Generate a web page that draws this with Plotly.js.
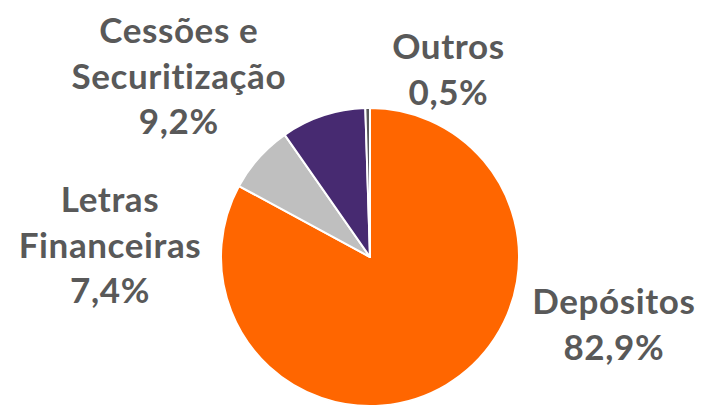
<!DOCTYPE html>
<html>
<head>
<meta charset="utf-8">
<script src="https://cdn.plot.ly/plotly-3.0.1.min.js"></script>
<style>
html,body{margin:0;padding:0;background:#fff;}
#chart{width:704px;height:406px;}
#chart .annotation-text{letter-spacing:0.6px;}
</style>
</head>
<body>
<div id="chart"></div>
<script>
const categories = ["Depósitos", "Letras Financeiras", "Cessões e Securitização", "Outros"];
const labelLines = ["Depósitos", "Letras<br>Financeiras", "Cessões e<br>Securitização", "Outros"];
const shares = [82.9, 7.4, 9.2, 0.5];
const shareLabels = ["82,9%", "7,4%", "9,2%", "0,5%"];
const colors = ["#FF6600", "#BFBFBF", "#472A71", "#595959"];

// label anchor positions (paper coords) for each category
const labelPos = [
  {x: 614/704, y: 1 - 323/406},
  {x: 110/704, y: 1 - 243/406},
  {x: 179/704, y: 1 - 75/406},
  {x: 448/704, y: 1 - 68/406}
];

const trace = {
  type: "pie",
  labels: categories,
  values: shares,
  sort: false,
  direction: "clockwise",
  rotation: 0,
  textinfo: "none",
  hoverinfo: "label+percent",
  marker: {colors: colors, line: {color: "#FFFFFF", width: 2}},
  domain: {x: [370/704 - 0.3, 370/704 + 0.3], y: [0, 1 - 108/406]},
  showlegend: false
};

const annotations = categories.map((c, i) => ({
  text: labelLines[i] + "<br>" + shareLabels[i],
  x: labelPos[i].x, y: labelPos[i].y,
  xref: "paper", yref: "paper",
  xanchor: "center", yanchor: "middle",
  showarrow: false,
  font: {family: "Lato", size: 35, color: "#595959", weight: "bold"}
}));

const layout = {
  width: 704, height: 406,
  margin: {l: 0, r: 0, t: 0, b: 0},
  paper_bgcolor: "#FFFFFF",
  plot_bgcolor: "#FFFFFF",
  annotations: annotations,
  showlegend: false
};

Plotly.newPlot("chart", [trace], layout, {displayModeBar: false, staticPlot: true});
</script>
</body>
</html>
